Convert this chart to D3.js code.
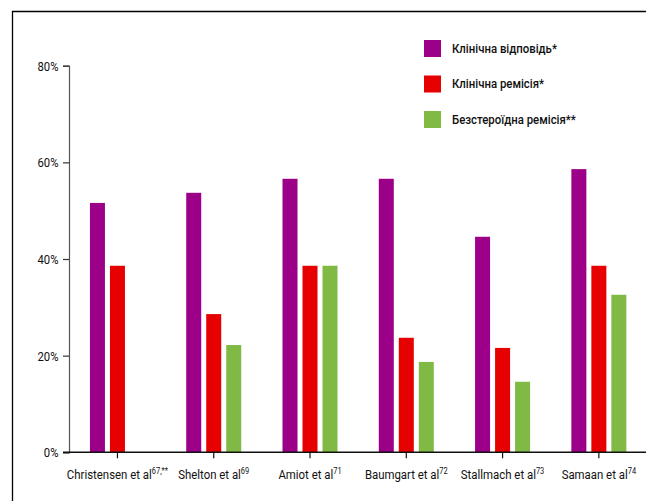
<!DOCTYPE html>
<html>
<head>
<meta charset="utf-8">
<script src="https://cdn.jsdelivr.net/npm/d3@7"></script>
<style>
    body { margin: 0; background: #fff; }
    svg text { font-family: Roboto, "DejaVu Sans", sans-serif; fill: #111; }
</style>
</head>
<body>
<div id="chart"></div>
<script>
// Study names and superscript references
const studies = ["Christensen et al", "Shelton et al", "Amiot et al", "Baumgart et al", "Stallmach et al", "Samaan et al"];
const refs = ["67,**", "69", "71", "72", "73", "74"];

// Series (values in %)
const seriesNames = ["Клінічна відповідь*", "Клінічна ремісія*", "Безстероїдна ремісія**"];
const seriesColors = ["#9c0088", "#e60000", "#80ba45"];
const clinicalResponse = [51.6, 53.7, 56.6, 56.6, 44.6, 58.6];
const clinicalRemission = [38.6, 28.6, 38.6, 23.7, 21.6, 38.6];
const steroidFreeRemission = [null, 22.2, 38.6, 18.7, 14.6, 32.6];
const yTicks = [0, 20, 40, 60, 80];

document.addEventListener("DOMContentLoaded", function () {
    var w = 646, h = 501;

    var svg = d3.select("#chart")
        .append("svg")
        .attr("width", w)
        .attr("height", h);

    // the original uses a narrow geometric face, so squeeze text horizontally
    function squeeze(textSel, targetWidth) {
        var node = textSel.node();
        var natural = node.getComputedTextLength();
        return targetWidth / natural;
    }

    // Frame lines (left and top)
    svg.append("path")
        .attr("d", "M12.5,501 V11.5 H646")
        .attr("fill", "none")
        .attr("stroke", "#000")
        .attr("stroke-width", 1.3);

    var x0 = d3.scaleBand()
        .domain(studies)
        .range([69.3, 647])
        .paddingInner(0)
        .paddingOuter(0);

    var x1 = d3.scaleBand()
        .domain(seriesNames)
        .range([-30, 30])
        .paddingInner(0.25)
        .paddingOuter(0.125);

    var y = d3.scaleLinear()
        .domain([0, 80])
        .range([452.3, 65.7]);

    // bars
    var data = [clinicalResponse, clinicalRemission, steroidFreeRemission];
    seriesNames.forEach(function (name, s) {
        svg.append("g")
            .selectAll("rect")
            .data(data[s].map((v, i) => ({ study: studies[i], v: v })).filter(d => d.v !== null))
            .enter()
            .append("rect")
            .attr("x", d => x0(d.study) + x0.bandwidth() / 2 + x1(name))
            .attr("y", d => y(d.v))
            .attr("width", x1.bandwidth())
            .attr("height", d => y(0) - y(d.v))
            .attr("fill", seriesColors[s]);
    });

    // y axis
    var yAxis = svg.append("g")
        .attr("transform", "translate(69,0)")
        .call(d3.axisLeft(y).tickValues(yTicks).tickSize(6).tickPadding(5).tickFormat(d => ""));
    yAxis.select(".domain").attr("stroke", "#555").attr("stroke-width", 1.2);
    yAxis.selectAll(".tick line").attr("stroke", "#333").attr("stroke-width", 1.2);

    var yLab = svg.append("g")
        .selectAll("g")
        .data(yTicks)
        .enter()
        .append("g")
        .attr("transform", d => "translate(58.5," + y(d) + ")");
    var yText = yLab.append("text")
        .attr("text-anchor", "end")
        .attr("dy", "0.36em")
        .attr("font-size", "13.5px")
        .text(d => d + "%");
    var ky = squeeze(yText.filter(d => d === 80), 21);
    yText.attr("transform", "scale(" + ky + ",1)");

    // x axis
    svg.append("line")
        .attr("x1", 63).attr("x2", w)
        .attr("y1", y(0)).attr("y2", y(0))
        .attr("stroke", "#111")
        .attr("stroke-width", 1.4);

    var xt = svg.append("g")
        .selectAll("g")
        .data(studies)
        .enter()
        .append("g")
        .attr("transform", d => "translate(" + (x0(d) + x0.bandwidth() / 2) + "," + y(0) + ")");
    xt.append("line")
        .attr("y2", 6)
        .attr("stroke", "#111")
        .attr("stroke-width", 1.2);
    var lbl = xt.append("text")
        .attr("y", 27)
        .attr("text-anchor", "middle")
        .attr("font-size", "13px");
    lbl.append("tspan").text(d => d);
    lbl.append("tspan")
        .attr("dy", -5)
        .attr("font-size", "8.5px")
        .text((d, i) => refs[i]);
    var probe = svg.append("text").attr("font-size", "13px").text(studies[0]);
    var kx = squeeze(probe, 85);
    probe.remove();
    lbl.attr("transform", "scale(" + kx + ",1)");

    // legend
    var legend = svg.append("g")
        .selectAll("g")
        .data(seriesNames)
        .enter()
        .append("g")
        .attr("transform", (d, i) => "translate(424," + (40 + i * 35.5) + ")");
    legend.append("rect")
        .attr("width", 17)
        .attr("height", 17)
        .attr("fill", (d, i) => seriesColors[i]);
    var legText = legend.append("text")
        .attr("x", 0)
        .attr("y", 13)
        .attr("font-size", "13.5px")
        .attr("font-weight", 500)
        .text(d => d);
    var kl = squeeze(legText.filter((d, i) => i === 0), 105);
    legText.attr("transform", "translate(28,0) scale(" + kl + ",1)");
});
</script>
</body>
</html>
